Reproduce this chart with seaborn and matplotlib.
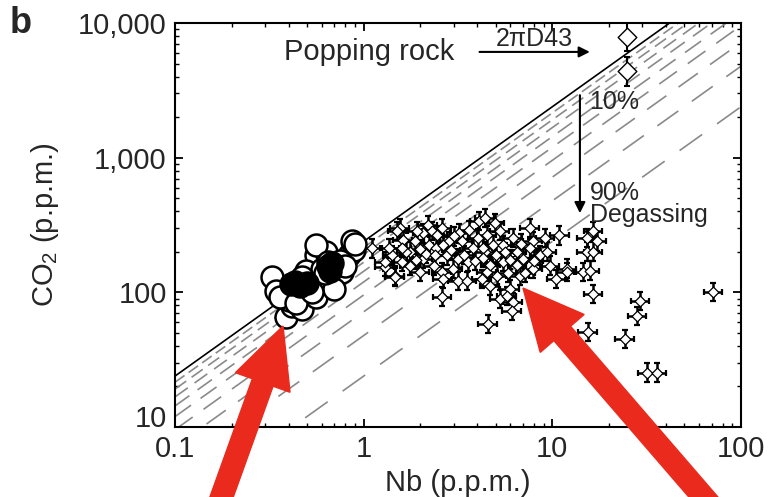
import numpy as np
import pandas as pd
import matplotlib
matplotlib.use("Agg")
import matplotlib.pyplot as plt
import seaborn as sns
from matplotlib.patches import FancyArrow
from matplotlib.transforms import IdentityTransform, ScaledTranslation
from matplotlib.ticker import FixedLocator, LogLocator, NullFormatter, FixedFormatter

# ---------------- data ----------------
# open circles (glass inclusions)
circle_open_nb = [0.327, 0.344, 0.388, 0.418, 0.472, 0.561, 0.561, 0.634, 0.682, 0.770,
                  0.839, 0.871, 0.893, 0.561, 0.496, 0.439, 0.52, 0.60, 0.65, 0.75,
                  0.80, 0.58, 0.70, 0.47, 0.40, 0.90, 0.62, 0.36, 0.44, 0.53]
circle_open_co2 = [131, 103, 66, 79, 75, 93, 188, 201, 126, 142,
                   188, 239, 205, 223, 145, 98, 112, 150, 169, 170,
                   158, 120, 105, 130, 88, 230, 140, 92, 84, 100]
# filled circles
circle_fill_nb = [0.43, 0.46, 0.50, 0.65, 0.68, 0.66, 0.41]
circle_fill_co2 = [120, 112, 118, 158, 165, 145, 116]

# MORB glasses (diamonds with error bars)
morb_nb = [1.11, 1.55, 1.61, 1.42, 1.29, 1.46, 1.59, 1.75, 1.86, 2.05,
           2.18, 2.29, 2.05, 1.98, 2.23, 2.46, 2.59, 2.60, 2.78, 2.85,
           2.96, 3.15, 3.15, 3.22, 3.51, 3.56, 3.78, 4.02, 4.11, 4.22,
           4.38, 2.43, 1.75, 1.37, 2.15, 2.62, 3.34,
           4.38, 4.94, 4.48, 5.26, 4.82, 4.27, 5.46, 6.16, 6.47, 6.97,
           7.59, 7.87, 7.87, 8.57, 9.33, 9.68, 10.5, 10.9, 11.9, 6.71,
           5.94, 5.26, 6.16, 4.48, 4.65, 15.2, 16.4, 17.2, 15.2, 16.4,
           14.5, 16.4, 7.59, 9.12, 5.46, 5.07,
           4.54, 5.73, 6.08, 15.4, 29.1, 28.1, 24.2, 31.7, 35.8, 71.1,
           11.9, 15.8,
           1.29, 1.46, 1.68, 1.50, 1.92, 2.62, 2.35,
           2.0, 2.4, 2.9, 3.4, 3.9, 4.3, 5.0, 5.6, 6.0, 6.5,
           7.2, 8.0, 3.0, 3.6, 2.6, 4.7, 5.8, 6.8, 1.9, 1.6]
morb_co2 = [212, 299, 243, 188, 155, 133, 169, 201, 239, 274,
            315, 284, 178, 142, 223, 265, 142, 93, 188, 239,
            150, 178, 122, 274, 122, 169, 212, 252, 338, 126,
            201, 212, 158, 212, 194, 223, 239,
            355, 326, 265, 284, 223, 212, 223, 252, 201, 178,
            299, 239, 150, 188, 201, 158, 126, 265, 150, 133,
            106, 89, 85, 142, 112, 252, 284, 239, 201, 201,
            142, 97, 212, 252, 169, 133,
            58, 94, 73, 51, 86, 67, 45, 25.4, 25.4, 101,
            142, 145,
            169, 130, 201, 284, 284, 126, 158,
            210, 190, 205, 190, 170, 180, 190, 200, 175, 160,
            140, 170, 260, 290, 300, 160, 140, 230, 175, 215]

# popping rock
pop_nb = [24.8, 24.8]
pop_co2 = [7900, 4370]

# reference lines: CO2/Nb of undegassed melt and degassed fractions
co2_nb_ratio = 239
remaining_fraction = [0.9, 0.8, 0.7, 0.6, 0.5, 0.4, 0.3, 0.2, 0.1]

x_ticks = [0.1, 1, 10, 100]
x_ticklabels = ["0.1", "1", "10", "100"]
y_ticks = [10, 100, 1000, 10000]
y_ticklabels = ["10", "100", "1,000", "10,000"]

# ---------------- style ----------------
sns.set_style("ticks")
plt.rcParams['font.family'] = ['Liberation Sans', 'DejaVu Sans']
plt.rcParams['mathtext.fontset'] = 'custom'
plt.rcParams['mathtext.rm'] = 'Liberation Sans'
plt.rcParams['mathtext.it'] = 'Liberation Sans:italic'

fig = plt.figure(figsize=(7.69, 4.97), dpi=100)
ax = fig.add_axes([0.2276, 0.1408, 0.9636 - 0.2276, 0.9537 - 0.1408])
ax.set_xscale('log')
ax.set_yscale('log')
ax.set_xlim(0.1, 100)
ax.set_ylim(10, 10000)

# reference lines
line_x = np.array([0.1, 100.0])
sns.lineplot(x=line_x, y=co2_nb_ratio * line_x, color='black', linewidth=1.2, ax=ax, zorder=2)
for i, f in enumerate(remaining_fraction):
    ln, = ax.plot(line_x, co2_nb_ratio * f * line_x, color='#8a8a8a', linewidth=1.2, zorder=1)
    on = 7 + i * 1.2
    off = 3 + i * 1.0
    ln.set_dashes((on, off))

# MORB points with error bars
morb_nb_a = np.array(morb_nb)
morb_co2_a = np.array(morb_co2)
xe = [morb_nb_a - morb_nb_a / 1.12, morb_nb_a * 1.12 - morb_nb_a]
ye = [morb_co2_a - morb_co2_a / 1.17, morb_co2_a * 1.17 - morb_co2_a]
ax.errorbar(morb_nb_a, morb_co2_a, xerr=xe, yerr=ye, fmt='none', ecolor='black',
            elinewidth=1.8, capsize=2.5, capthick=1.6, zorder=3)
sns.scatterplot(x=morb_nb, y=morb_co2, marker='D', s=30, color='white',
                edgecolor='black', linewidth=0.9, ax=ax, zorder=4, legend=False)

# popping rock
pop_nb_a = np.array(pop_nb)
pop_co2_a = np.array(pop_co2)
ax.errorbar(pop_nb_a, pop_co2_a, yerr=[pop_co2_a - pop_co2_a / 1.28, pop_co2_a * 1.28 - pop_co2_a],
            fmt='none', ecolor='black', elinewidth=1.5, capsize=2.5, capthick=1.5, zorder=3)
ax.errorbar(pop_nb_a, pop_co2_a, xerr=[pop_nb_a - pop_nb_a / 1.1, pop_nb_a * 1.1 - pop_nb_a],
            fmt='none', ecolor='black', elinewidth=1.2, capsize=0, zorder=3)
sns.scatterplot(x=pop_nb, y=pop_co2, marker='D', s=90, color='white',
                edgecolor='black', linewidth=1.0, ax=ax, zorder=4, legend=False)

# circles
sns.scatterplot(x=circle_open_nb, y=circle_open_co2, marker='o', s=250, color='white',
                edgecolor='black', linewidth=1.8, ax=ax, zorder=5, legend=False)
sns.scatterplot(x=circle_fill_nb, y=circle_fill_co2, marker='o', s=250, color='black',
                edgecolor='black', linewidth=1.8, ax=ax, zorder=6, legend=False)

# ticks
ax.xaxis.set_major_locator(FixedLocator(x_ticks))
ax.xaxis.set_major_formatter(FixedFormatter(x_ticklabels))
ax.yaxis.set_major_locator(FixedLocator(y_ticks))
ax.yaxis.set_major_formatter(FixedFormatter(y_ticklabels))
ax.xaxis.set_minor_locator(LogLocator(base=10, subs=np.arange(2, 10)))
ax.yaxis.set_minor_locator(LogLocator(base=10, subs=np.arange(2, 10)))
ax.xaxis.set_minor_formatter(NullFormatter())
ax.yaxis.set_minor_formatter(NullFormatter())
ax.tick_params(which='both', direction='in', top=True, right=True, labelsize=21, color='black')
ax.tick_params(which='major', length=6, width=1.3, pad=6)
ax.tick_params(which='minor', length=3, width=1.0)
for sp in ax.spines.values():
    sp.set_linewidth(1.5)
    sp.set_color('black')

ax.set_xlabel("Nb (p.p.m.)", fontsize=21, labelpad=4)
ax.set_ylabel("CO$_2$ (p.p.m.)", fontsize=21, labelpad=12)

fig.canvas.draw()
# nudge the lowest y tick label up (as in the reference) so it clears "0.1"
ylabels = ax.get_yticklabels()
ylabels[0].set_transform(ylabels[0].get_transform() + ScaledTranslation(0, 8 / 72, fig.dpi_scale_trans))

# annotations
ax.text(0.38, 6100, "Popping rock", fontsize=21, ha='left', va='center')
ax.annotate("", xy=(15.8, 6100), xytext=(4.11, 6100),
            arrowprops=dict(arrowstyle='-|>', color='black', lw=1.5, mutation_scale=16,
                            shrinkA=0, shrinkB=0))
ax.text(8.07, 7600, "2πD43", fontsize=18, ha='center', va='center')
ax.annotate("", xy=(14.0, 387), xytext=(14.0, 2910),
            arrowprops=dict(arrowstyle='-|>', color='black', lw=1.5, mutation_scale=16,
                            shrinkA=0, shrinkB=0))
ax.text(15.6, 2600, "10%", fontsize=18, ha='left', va='center')
ax.text(15.8, 547, "90%", fontsize=18, ha='left', va='center')
ax.text(15.8, 374, "Degassing", fontsize=18, ha='left', va='center')

fig.text(0.013, 0.952, "b", fontsize=26, fontweight='bold', ha='left', va='center')

# red pointer arrows (figure pixel coordinates)
H = 497
red = '#ea2a1d'
a1 = FancyArrow(218, -10, 283 - 218, (H - 326) + 10, width=22, head_width=58, head_length=60,
                length_includes_head=True, color=red, transform=IdentityTransform(), zorder=10)
a2 = FancyArrow(712, -10, 523 - 712, (H - 288) + 10, width=22, head_width=58, head_length=60,
                length_includes_head=True, color=red, transform=IdentityTransform(), zorder=10)
fig.add_artist(a1)
fig.add_artist(a2)

fig.savefig("out.png", dpi=100)
